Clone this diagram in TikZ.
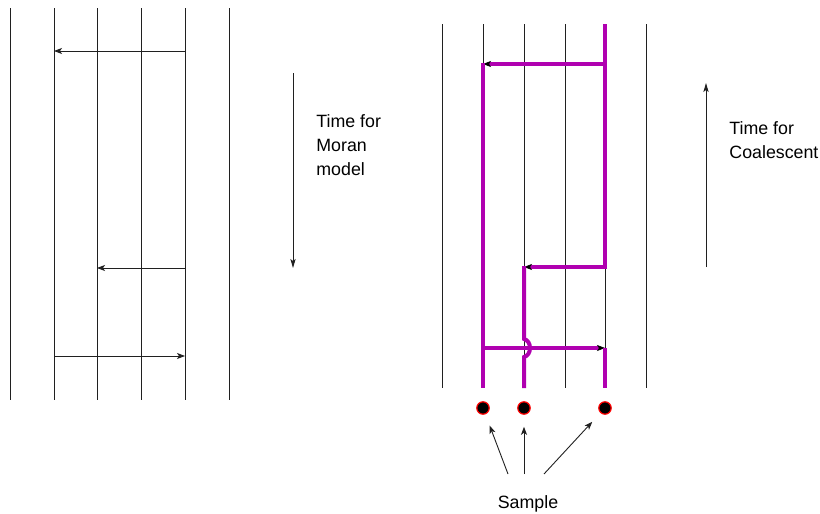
\documentclass[tikz,border=0pt]{standalone}
\usepackage{fontspec}
\setmainfont{Liberation Sans}
\usetikzlibrary{arrows.meta,positioning}
\definecolor{cAnc}{HTML}{B000B0}
\definecolor{cDot}{HTML}{FF0000}
\definecolor{cLin}{HTML}{202020}
\tikzset{
  lin/.style={line width=0.5pt, cLin},
  anc/.style={line width=2pt, cAnc},
  mv/.style={-{Stealth[length=4pt,width=3pt,inset=1pt]}, line width=0.45pt, cLin},
  ancmv/.style={anc, -{Stealth[length=4pt,width=3pt,inset=1pt,line width=0.3pt,black]}},
  tarr/.style={-{Stealth[length=4.5pt,width=2.6pt,inset=1pt]}, line width=0.45pt, cLin},
  smp/.style={circle, fill=black, draw=cDot, line width=0.6pt, minimum size=6.2pt, inner sep=0pt},
  lbl/.style={font=\fontsize{8.9}{12}\selectfont, align=left, inner sep=0pt}
}
\begin{document}
\begin{tikzpicture}[x=0.5pt,y=-0.5pt]
\useasboundingbox (0,0) rectangle (820,514);
% Moran model: six individuals, time runs downwards
\foreach \x in {10,54,97,141,185,229}
  \draw[lin] (\x,8) -- (\x,400);
\draw[mv] (185,51) -- (54,51);
\draw[mv] (185,268) -- (97,268);
\draw[mv] (54,356) -- (185,356);
\coordinate (mt0) at (293,73);
\coordinate (mt1) at (293,268);
\draw[tarr] (mt0) -- (mt1);
\node[lbl, anchor=west] (moran) at (316,145) {Time for\\Moran\\model};
% coalescent: same events, traced back from the sample
\foreach \x in {442,483,524,565,605,646}
  \draw[lin] (\x,24) -- (\x,388);
\draw[ancmv] (483,348) -- (605,348);
\draw[anc] (605,348) -- (605,388);
\draw[ancmv] (605,24) -- (605,267) -- (524,267);
\draw[anc] (524,266) -- (524,339) .. controls (532,341) and (532,355) .. (524,357) -- (524,388);
\draw[ancmv] (605,64) -- (483,64);
\draw[anc] (483,63) -- (483,388);
\coordinate (ct0) at (706,267);
\coordinate (ct1) at (706,83);
\draw[tarr] (ct0) -- (ct1);
\node[lbl, anchor=west] (coal) at (729,140) {Time for\\Coalescent};
% sampled lineages
\node[smp] (s1) at (483,408) {};
\node[smp] (s2) at (524,408) {};
\node[smp] (s3) at (605,408) {};
\node[lbl] (smpl) at (528,504) {Sample};
\coordinate (t1) at (508,474);
\coordinate (t2) at (524,474);
\coordinate (t3) at (544,474);
\draw[mv, shorten >=6pt] (t1) -- (s1);
\draw[mv, shorten >=6pt] (t2) -- (s2);
\draw[mv, shorten >=6pt] (t3) -- (s3);
\end{tikzpicture}
\end{document}
